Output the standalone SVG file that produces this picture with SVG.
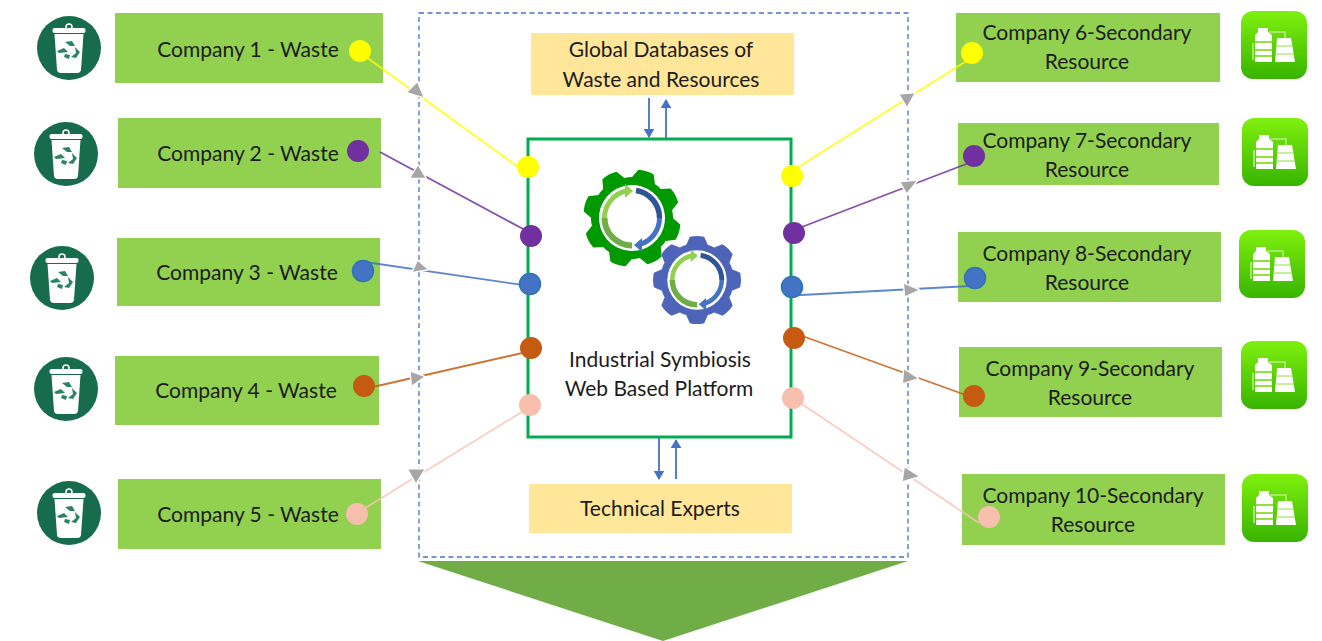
<svg xmlns="http://www.w3.org/2000/svg" xmlns:xlink="http://www.w3.org/1999/xlink" width="1322" height="641" viewBox="0 0 1322 641">
<style>
text{font-family:"Lato","Open Sans","Liberation Sans",sans-serif;font-size:21px;fill:#1c1c1c;text-anchor:middle}
.co{fill:#92d050}
.db{fill:#ffe699}
.c{fill:none;stroke-width:1.8;stroke-opacity:.85}
.t{fill:#a6a6a6;stroke:#fff;stroke-width:3;stroke-linejoin:round;paint-order:stroke}
.s{stroke:#4472c4;stroke-width:1.8;fill:none;marker-end:url(#b)}
.y{fill:#ffff00}.p{fill:#7030a0}.bl{fill:#4472c4;stroke:#2e75b6;stroke-width:1.5}.o{fill:#c55a11}.k{fill:#f6bfae}
</style>
<defs>
<marker id="b" viewBox="0 0 10 12" refX="9" refY="6" markerWidth="9" markerHeight="11" markerUnits="userSpaceOnUse" orient="auto"><path d="M0 0L10 6L0 12Z" fill="#4472c4"/></marker>
<linearGradient id="pg" x1="0" y1="0" x2="0" y2="1"><stop offset="0" stop-color="#7ff00e"/><stop offset="1" stop-color="#38b400"/></linearGradient>
<g id="trash">
<circle r="32" fill="#166c4c"/>
<circle cy="-21" r="3" fill="none" stroke="#fff" stroke-width="1.600"/>
<rect x="-16.500" y="-20" width="33" height="5" rx="2" fill="#fff"/>
<path d="M-14.500 -14H14.500L12 22Q11.500 25 8 25H-8Q-11.500 25 -12 22Z" fill="#fff"/>
<path d="M-4 -6L3 -7L6 -2L1 -2ZM6 -1L11 4L7 10L2 9L7 5ZM-5 0L-1 4L-10 5L-12 3ZM-4 6L1 7L0 11L-5 9Z" fill="#2a8460"/>
</g>
<g id="plant">
<rect x="-33" y="-34" width="66" height="68" rx="12" fill="url(#pg)"/>
<path d="M-16 -17H-6V-13L-2 -10V17H-19V-10L-16 -13Z" fill="#fff"/>
<path d="M-19 -3H-2M-19 5H-2M-19 11H-2" stroke="#6fd50c" stroke-width="1.500"/>
<path d="M3 -7H17L21 17H1Z" fill="#fff"/>
<path d="M2 1H18M1 9H20" stroke="#8be040" stroke-width="1"/>
<path d="M-5 -13H11V-7" fill="none" stroke="#b9ee85" stroke-width="1.500"/>
<path d="M-21 -2V15" stroke="#d8f8b8" stroke-width="1.200"/>
</g>
<path id="tooth" d="M39 -12L48 -8Q50 0 48 8L39 12Z"/>
<g id="gear">
<path fill-rule="evenodd" d="M-41 0A41 41 0 1 1 41 0A41 41 0 1 1 -41 0ZM-33 0A33 33 0 1 0 33 0A33 33 0 1 0 -33 0Z"/>
<use xlink:href="#tooth" href="#tooth"/>
<use xlink:href="#tooth" href="#tooth" transform="rotate(45)"/>
<use xlink:href="#tooth" href="#tooth" transform="rotate(90)"/>
<use xlink:href="#tooth" href="#tooth" transform="rotate(135)"/>
<use xlink:href="#tooth" href="#tooth" transform="rotate(180)"/>
<use xlink:href="#tooth" href="#tooth" transform="rotate(225)"/>
<use xlink:href="#tooth" href="#tooth" transform="rotate(270)"/>
<use xlink:href="#tooth" href="#tooth" transform="rotate(315)"/>
</g>
<g id="arrows" fill="none">
<path d="M0 27.500A27.500 27.500 0 0 1 -27.500 0" stroke="#70ad47" stroke-width="6"/>
<path d="M-27.500 0A27.500 27.500 0 0 1 -6 -27" stroke="#92d050" stroke-width="5"/>
<path d="M-7 -34L1 -27L-7 -20Z" fill="#92d050"/>
<path d="M4 -27.500A27.500 27.500 0 0 1 27.500 0" stroke="#2f5597" stroke-width="5.500"/>
<path d="M27.500 0A27.500 27.500 0 0 1 9 26" stroke="#4472c4" stroke-width="5"/>
<path d="M10 34L2 27L10 20Z" fill="#4472c4"/>
</g>
</defs>
<rect width="1322" height="641" fill="#fff"/>
<g id="platform-boundary"><rect x="419" y="13" width="489" height="544" fill="none" stroke="#4472c4" stroke-width="1.300" stroke-dasharray="5 3.500"/></g>
<path id="output-arrow" d="M418 561H908L663 641Z" fill="#70ad47"/>
<g id="platform">
<rect x="528" y="139" width="263" height="298" fill="#fff" stroke="#00ac50" stroke-width="3"/>
<g id="gear-green" transform="translate(632 218)">
<use xlink:href="#gear" href="#gear" fill="#009a00" transform="rotate(17)"/>
<use xlink:href="#arrows" href="#arrows"/>
</g>
<g id="gear-blue" transform="translate(697 280) scale(.9)">
<use xlink:href="#gear" href="#gear" fill="#4e64b8"/>
<use xlink:href="#arrows" href="#arrows"/>
</g>
<text x="660" y="367">Industrial Symbiosis</text>
<text x="659" y="396">Web Based Platform</text>
</g>
<g id="company-1"><use xlink:href="#trash" href="#trash" x="69" y="48"/><rect class="co" x="115" y="13" width="268" height="70"/><text x="248" y="57">Company 1 - Waste</text></g>
<g id="company-2"><use xlink:href="#trash" href="#trash" x="66" y="154"/><rect class="co" x="118" y="118" width="263" height="70"/><text x="248" y="161">Company 2 - Waste</text></g>
<g id="company-3"><use xlink:href="#trash" href="#trash" x="62" y="278"/><rect class="co" x="117" y="238" width="263" height="68"/><text x="247" y="280">Company 3 - Waste</text></g>
<g id="company-4"><use xlink:href="#trash" href="#trash" x="66" y="389"/><rect class="co" x="115" y="356" width="264" height="69"/><text x="246" y="398">Company 4 - Waste</text></g>
<g id="company-5"><use xlink:href="#trash" href="#trash" x="69" y="513"/><rect class="co" x="118" y="479" width="263" height="70"/><text x="248" y="522">Company 5 - Waste</text></g>
<g id="company-6"><rect class="co" x="956" y="13" width="264" height="69"/><text x="1087" y="40">Company 6-Secondary</text><text x="1087" y="69">Resource</text><use xlink:href="#plant" href="#plant" x="1274" y="45"/></g>
<g id="company-7"><rect class="co" x="958" y="123" width="261" height="62"/><text x="1087" y="148">Company 7-Secondary</text><text x="1087" y="177">Resource</text><use xlink:href="#plant" href="#plant" x="1275" y="152"/></g>
<g id="company-8"><rect class="co" x="958" y="232" width="263" height="70"/><text x="1087" y="261">Company 8-Secondary</text><text x="1087" y="290">Resource</text><use xlink:href="#plant" href="#plant" x="1272" y="264"/></g>
<g id="company-9"><rect class="co" x="959" y="347" width="263" height="70"/><text x="1090" y="376">Company 9-Secondary</text><text x="1090" y="405">Resource</text><use xlink:href="#plant" href="#plant" x="1274" y="375"/></g>
<g id="company-10"><rect class="co" x="962" y="474" width="263" height="71"/><text x="1093" y="503">Company 10-Secondary</text><text x="1093" y="532">Resource</text><use xlink:href="#plant" href="#plant" x="1275" y="508"/></g>
<g id="global-databases"><rect class="db" x="531" y="33" width="263" height="62"/><text x="661" y="57">Global Databases of</text><text x="661" y="87">Waste and Resources</text></g>
<g id="technical-experts"><rect class="db" x="529" y="484" width="263" height="49"/><text x="660" y="516">Technical Experts</text></g>
<g id="connectors">
<path class="c" stroke="#ffff00" d="M360 52.500L525 172"/>
<path class="c" stroke="#7030a0" d="M380 152L525 230"/>
<path class="c" stroke="#4472c4" d="M365 262L530 286"/>
<path class="c" stroke="#c55a11" d="M364 389L531 351"/>
<path class="c" stroke="#f6c6b5" d="M357 513L530 407"/>
<path class="c" stroke="#ffff00" d="M792 171L972 57.500"/>
<path class="c" stroke="#7030a0" d="M794 230L974 161"/>
<path class="c" stroke="#4472c4" d="M792 295.500L970 286"/>
<path class="c" stroke="#c55a11" d="M794 333L974 398"/>
<path class="c" stroke="#f6c6b5" d="M793 398L979 523"/>
<path class="t" d="M417.200 82.700L407.600 92.300L423.200 97.100Z"/>
<path class="t" d="M418 165.700L410.800 177.700L425.200 177.700Z"/>
<path class="t" d="M417.700 260.900L412.900 271.700L427.300 269.300Z"/>
<path class="t" d="M410.800 372L424 376.800L412 385.200Z"/>
<path class="t" d="M408.500 469.500L424.100 469.500L415.900 482.700Z"/>
<path class="t" d="M899.800 94.600L914.200 93.400L907 106.600Z"/>
<path class="t" d="M900.800 182.300L916.400 181.100L906.800 193.100Z"/>
<path class="t" d="M904.100 284L918.500 290L905.300 296Z"/>
<path class="t" d="M904.300 369.800L917.500 378.200L903.100 383Z"/>
<path class="t" d="M904.800 467.800L918.400 476.200L902.800 481Z"/>
<path class="s" d="M649 98V137"/>
<path class="s" d="M666 138V100"/>
<path class="s" d="M659 438V479"/>
<path class="s" d="M676 479V440"/>
</g>
<g id="ports">
<circle class="y" cx="360" cy="51" r="11"/><circle class="p" cx="358" cy="151" r="11"/><circle class="bl" cx="363" cy="271" r="10.500"/><circle class="o" cx="364" cy="386" r="11"/><circle class="k" cx="357" cy="514" r="11"/>
<circle class="y" cx="528" cy="167" r="11"/><circle class="p" cx="531" cy="236" r="11"/><circle class="bl" cx="530" cy="284" r="10.500"/><circle class="o" cx="531" cy="348" r="11"/><circle class="k" cx="530" cy="405" r="11"/>
<circle class="y" cx="792" cy="176" r="11"/><circle class="p" cx="794" cy="233" r="11"/><circle class="bl" cx="792" cy="287" r="10.500"/><circle class="o" cx="794" cy="338" r="11"/><circle class="k" cx="793" cy="398" r="11"/>
<circle class="y" cx="972" cy="53" r="11"/><circle class="p" cx="974" cy="156" r="11"/><circle class="bl" cx="975" cy="278" r="10.500"/><circle class="o" cx="974" cy="396" r="11"/><circle class="k" cx="989" cy="517" r="11"/>
</g>
</svg>
